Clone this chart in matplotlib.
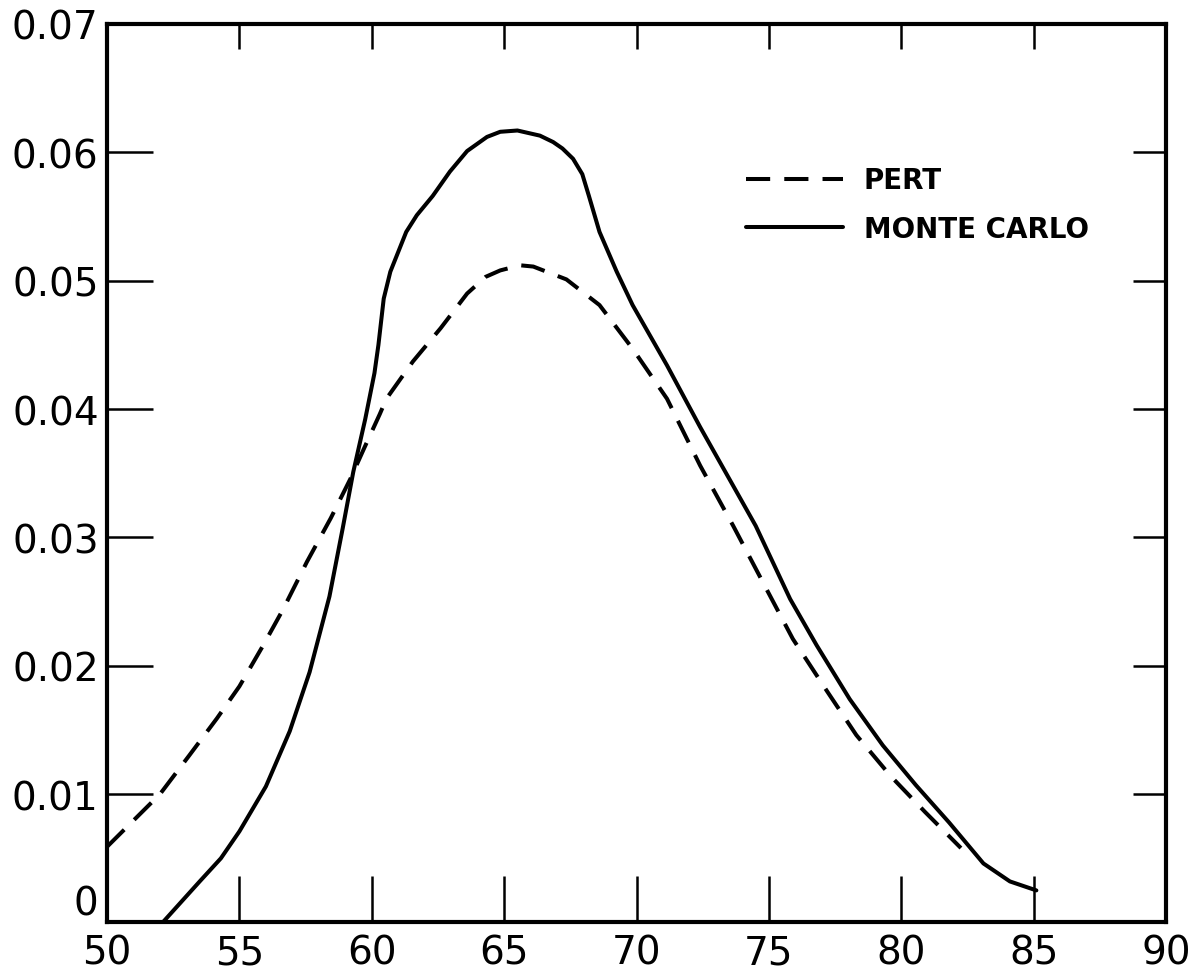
import matplotlib
matplotlib.use('Agg')
import matplotlib.pyplot as plt

# values
mc_x = [52.1, 52.8, 53.5, 54.3, 55.0, 56.0, 56.9, 57.65, 58.4, 58.9, 59.3, 59.75,
        60.1, 60.25, 60.45, 60.7, 61.3, 61.7, 62.3, 62.95, 63.6, 64.35, 64.85,
        65.5, 66.35, 66.85, 67.2, 67.6, 67.95, 68.2, 68.6, 69.25, 69.85, 71.15,
        72.4, 73.0, 74.5, 75.8, 76.8, 78.05, 79.3, 80.55, 81.8, 83.1, 84.1, 85.1]
mc_y = [0.0, 0.0016, 0.0032, 0.0050, 0.0071, 0.0106, 0.0149, 0.0195, 0.0254, 0.0307,
        0.0351, 0.0392, 0.0428, 0.0450, 0.0486, 0.0507, 0.0538, 0.0551, 0.0566,
        0.0585, 0.0601, 0.0612, 0.0616, 0.0617, 0.0613, 0.0608, 0.0603, 0.0595,
        0.0583, 0.0566, 0.0538, 0.0507, 0.0481, 0.0434, 0.0386, 0.0364, 0.0309,
        0.0252, 0.0216, 0.0174, 0.0138, 0.0107, 0.0078, 0.0046, 0.0032, 0.0025]

pert_x = [50.0, 52.0, 53.1, 54.15, 55.0, 55.9, 56.65, 57.55, 58.45, 59.2, 59.7, 60.3,
          60.55, 61.55, 62.6, 63.6, 64.3, 64.85, 65.6, 66.1, 67.35, 68.6, 69.85,
          71.15, 72.4, 73.65, 74.9, 75.9, 77.2, 78.3, 79.6, 80.9, 82.25]
pert_y = [0.0059, 0.0100, 0.0130, 0.0159, 0.0184, 0.0216, 0.0244, 0.0281, 0.0315,
          0.0346, 0.0369, 0.0396, 0.0408, 0.0437, 0.0463, 0.0490, 0.0503, 0.0508,
          0.0512, 0.0511, 0.0501, 0.0481, 0.0447, 0.0408, 0.0356, 0.0309, 0.0260,
          0.0221, 0.0180, 0.0146, 0.0114, 0.0086, 0.0058]

x_ticks = [50, 55, 60, 65, 70, 75, 80, 85, 90]
y_ticks = [0, 0.01, 0.02, 0.03, 0.04, 0.05, 0.06, 0.07]
y_labels = ['0', '0.01', '0.02', '0.03', '0.04', '0.05', '0.06', '0.07']

plt.rcParams['font.family'] = ['DejaVu Sans']

fig = plt.figure(figsize=(11.96, 9.79), dpi=100)
ax = fig.add_axes([0.0895, 0.0567, 0.8855, 0.9178])

ax.plot(pert_x, pert_y, color='black', lw=2.9, dashes=(6, 3.5),
        solid_capstyle='butt', dash_capstyle='butt', label='PERT')
ax.plot(mc_x, mc_y, color='black', lw=2.9, solid_capstyle='round',
        solid_joinstyle='round', label='MONTE CARLO')

ax.set_xlim(50, 90)
ax.set_ylim(0, 0.07)
ax.set_xticks(x_ticks)
ax.set_xticklabels([str(v) for v in x_ticks], fontsize=28)
ax.set_yticks(y_ticks)
ax.set_yticklabels(y_labels, fontsize=28)
ax.tick_params(axis='x', direction='in', length=33, width=1.8, pad=8,
               top=False, bottom=True)
ax.tick_params(axis='y', direction='in', length=33, width=1.8, pad=6,
               left=True, right=False)
# the "0" sits above the bottom edge
ax.get_yticklabels()[0].set_verticalalignment('bottom')

# top and right ticks are shorter
top = ax.secondary_xaxis('top')
top.set_xticks(x_ticks)
top.tick_params(direction='in', length=18, width=1.8, labeltop=False)
right = ax.secondary_yaxis('right')
right.set_yticks(y_ticks)
right.tick_params(direction='in', length=24, width=1.8, labelright=False)
for a in (top, right):
    for s in a.spines.values():
        s.set_visible(False)

for s in ax.spines.values():
    s.set_linewidth(3)

leg = ax.legend(loc='upper left', bbox_to_anchor=(0.59, 0.857), frameon=False,
                fontsize=20, handlelength=3.5, handletextpad=0.75,
                labelspacing=0.75, borderpad=0)
for t in leg.get_texts():
    t.set_fontweight('bold')

fig.savefig('out.png', dpi=100)
